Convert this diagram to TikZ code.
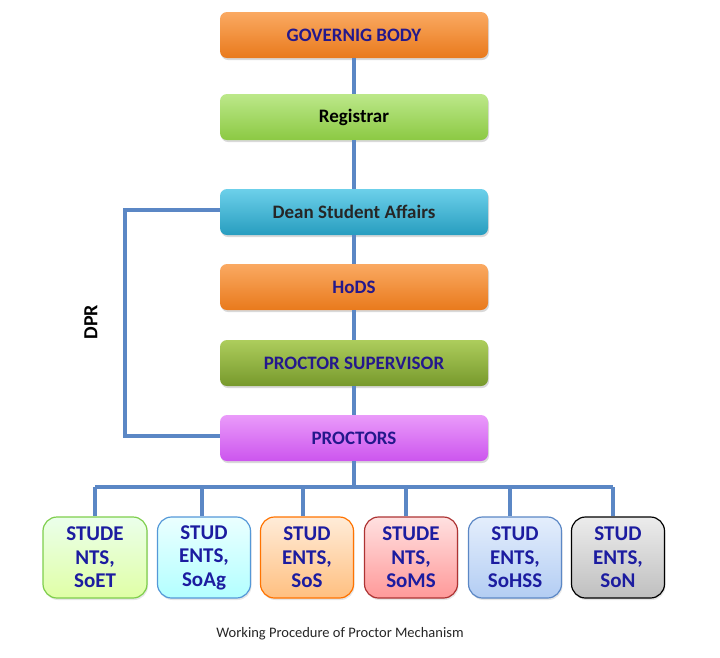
\documentclass[tikz,border=0pt]{standalone}
\usepackage{fontspec}
\setmainfont{Carlito}
\usetikzlibrary{shadows}
\definecolor{lineblue}{HTML}{5B87C5}
\definecolor{txtblue}{HTML}{24188C}
\definecolor{subtxt}{HTML}{1C1CA0}
\definecolor{orT}{HTML}{FAA962}\definecolor{orB}{HTML}{E97A1C}
\definecolor{grT}{HTML}{BCE88A}\definecolor{grB}{HTML}{8CC943}
\definecolor{cyT}{HTML}{6CD0EA}\definecolor{cyB}{HTML}{279DBF}
\definecolor{olT}{HTML}{ADCD5C}\definecolor{olB}{HTML}{77992C}
\definecolor{puT}{HTML}{EA9BFA}\definecolor{puB}{HTML}{CC55EE}
\definecolor{sbT}{HTML}{E4EEFC}\definecolor{sbB}{HTML}{B3CDF3}
\tikzset{
  mainbox/.style={rounded corners=7pt, minimum width=268pt, minimum height=46pt,
    font=\fontsize{19}{22}\selectfont\bfseries, inner sep=0pt,
    drop shadow={shadow xshift=1pt, shadow yshift=-2pt, opacity=0.3}},
  subbox/.style={rounded corners=14pt, draw, line width=1.2pt, minimum width=93pt,
    minimum height=81pt, align=center, text=subtxt, inner sep=0pt,
    font=\fontsize{21}{23.5}\selectfont\bfseries,
    drop shadow={shadow xshift=1pt, shadow yshift=-2pt, opacity=0.2}},
  conn/.style={draw=lineblue, line width=4.5pt},
}
\begin{document}
\begin{tikzpicture}[x=1pt,y=-1pt]
\useasboundingbox (0,0) rectangle (720,657);
\node[mainbox, top color=orT, bottom color=orB, text=txtblue] (gb) at (354,35) {GOVERNIG BODY};
\node[mainbox, top color=grT, bottom color=grB, text=black] (reg) at (354,117) {Registrar};
\node[mainbox, top color=cyT, bottom color=cyB, text=black!85] (dsa) at (354,212) {Dean Student Affairs};
\node[mainbox, top color=orT, bottom color=orB, text=txtblue] (hod) at (354,287) {HoDS};
\node[mainbox, top color=olT, bottom color=olB, text=txtblue] (ps) at (354,363) {PROCTOR SUPERVISOR};
\node[mainbox, top color=puT, bottom color=puB, text=txtblue] (pr) at (354,438) {PROCTORS};

\node[subbox, minimum width=104pt, top color=green!8!white, bottom color=green!35!yellow!35!white, draw=green!45!olive!70!white] (s1) at (95,557.5) {STUDE\\NTS,\\SoET};
\node[subbox, top color=cyan!8!white, bottom color=cyan!30!white, draw=cyan!60!blue!70] (s2) at (204,557.5) {STUD\\ENTS,\\SoAg};
\node[subbox, top color=orange!15!white, bottom color=orange!50!white, draw=orange!90!red] (s3) at (307,557.5) {STUD\\ENTS,\\SoS};
\node[subbox, top color=red!12!white, bottom color=red!40!white, draw=red!60!black!80] (s4) at (411,557.5) {STUDE\\NTS,\\SoMS};
\node[subbox, top color=sbT, bottom color=sbB, draw=lineblue] (s5) at (515,557.5) {STUD\\ENTS,\\SoHSS};
\node[subbox, top color=gray!15!white, bottom color=gray!50!white, draw=black] (s6) at (618,557.5) {STUD\\ENTS,\\SoN};

\path[conn] (gb.south) -- (reg.north);
\path[conn] (reg.south) -- (dsa.north);
\path[conn] (dsa.south) -- (hod.north);
\path[conn] (hod.south) -- (ps.north);
\path[conn] (ps.south) -- (pr.north);
\coordinate (dl) at (125,210);
\coordinate (dl2) at (125,436);
\path[conn] (dsa.west |- dl) -- (dl) -- (dl2) -- (pr.west |- dl2);
\coordinate (bus) at (354,487);
\path[conn] (pr.south) -- (bus);
\coordinate (busL) at (95,487);
\coordinate (busR) at (613,487);
\path[conn] (busL) -- (busR);
\foreach \n/\x in {s1/95,s2/202,s3/303,s4/406,s5/510,s6/613}{
  \coordinate (d\n) at (\x,487);
  \path[conn] (d\n) -- (d\n |- \n.north);
}
\node[rotate=90, font=\fontsize{20}{22}\selectfont\bfseries] (dpr) at (91,322) {DPR};
\node[font=\fontsize{14.5}{16}\selectfont, text=black!85] (cap) at (340,634) {Working Procedure of Proctor Mechanism};
\end{tikzpicture}
\end{document}
